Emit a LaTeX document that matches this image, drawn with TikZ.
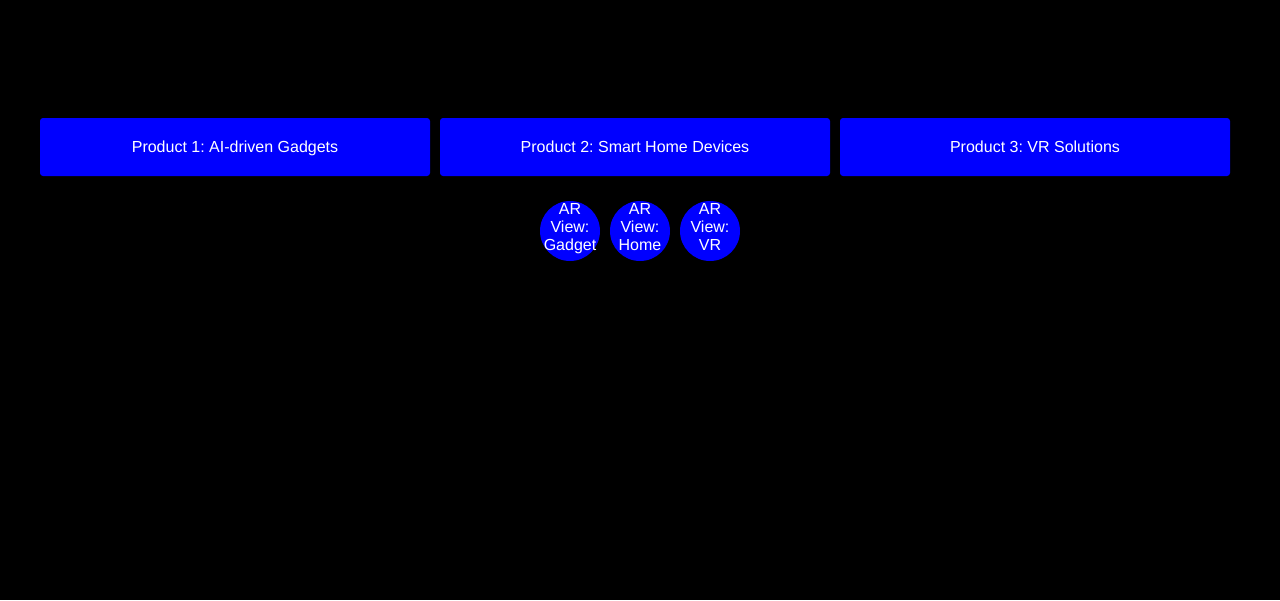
\documentclass[tikz,border=0pt]{standalone}
\usepackage{fontspec}
\setmainfont{Liberation Sans}
\begin{document}
\frenchspacing
\begin{tikzpicture}[x=1pt,y=-1pt,
  prodbox/.style={fill=blue,draw=none,rounded corners=3pt,minimum width=390pt,minimum height=58pt,inner sep=0pt,text=white,text height=11.5pt,text depth=0pt,font=\fontsize{16pt}{18pt}\selectfont},
  arview/.style={circle,fill=blue,draw=none,minimum size=60pt,inner sep=0pt},
  arlabel/.style={text=white,align=center,font=\fontsize{16pt}{18pt}\selectfont,inner sep=0pt,anchor=north}]
\fill[black] (0,0) rectangle (1280,600);
\useasboundingbox (0,0) rectangle (1280,600);
\node[prodbox] (p1) at (235,147) {Product 1: AI-driven Gadgets};
\node[prodbox] (p2) at (635,147) {Product 2: Smart Home Devices};
\node[prodbox] (p3) at (1035,147) {Product 3: VR Solutions};
\node[arview] (a1) at (570,231) {};
\node[arview] (a2) at (640,231) {};
\node[arview] (a3) at (710,231) {};
\node[arlabel] (t1) at (570,203.3) {AR\\View:\\Gadget};
\node[arlabel] (t2) at (640,203.3) {AR\\View:\\Home};
\node[arlabel] (t3) at (710,203.3) {AR\\View:\\VR};
\end{tikzpicture}
\end{document}
